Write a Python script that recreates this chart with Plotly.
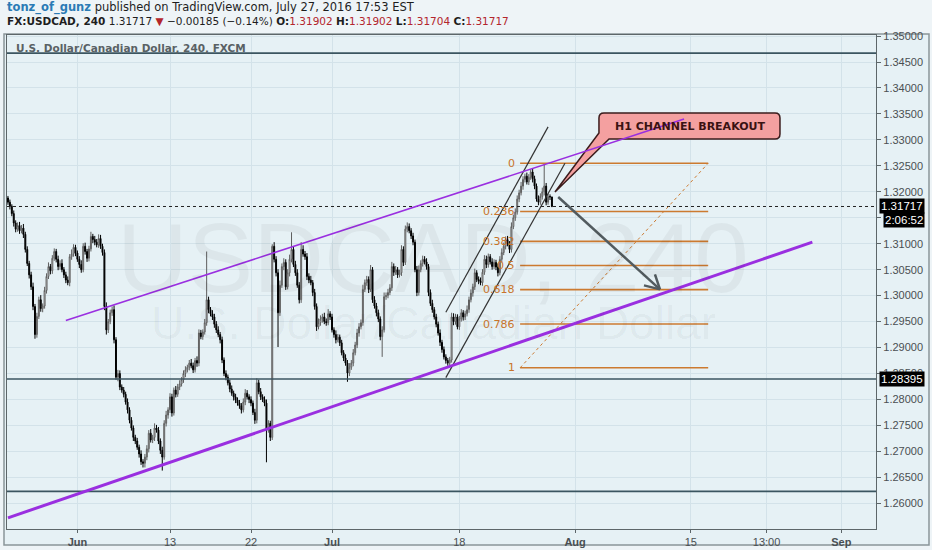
import pandas as pd
import plotly.graph_objects as go

# USDCAD 240 (4h candles), prices kept in pips above 1.0000  (3172 -> 1.3172)
first_open = 3188

close_rows = [
    [3180, 3172, 3158, 3140, 3128, 3135],  # May 24
    [3125, 3130, 3118, 3089, 3062, 3040],
    [3017, 2979, 2925, 2960, 2992, 2975],
    [2980, 3010, 3037, 3056, 3048, 3072],
    [3085, 3070, 3056, 3062, 3050, 3040],  # May 30
    [3030, 3025, 3075, 3080, 3093, 3082],
    [3070, 3060, 3050, 3095, 3085, 3072],  # Jun 1
    [3090, 3114, 3108, 3103, 3098, 3110],
    [3095, 3083, 2979, 2934, 2950, 2967],
    [2973, 2915, 2843, 2850, 2824, 2818],  # Jun 6
    [2810, 2795, 2780, 2760, 2745, 2727],
    [2720, 2708, 2695, 2680, 2677, 2689],
    [2705, 2735, 2722, 2727, 2745, 2741],
    [2720, 2702, 2689, 2754, 2770, 2780],
    [2805, 2774, 2818, 2810, 2824, 2830],  # Jun 13
    [2838, 2850, 2857, 2862, 2870, 2865],
    [2857, 2875, 2870, 2928, 2921, 2930],
    [2948, 2992, 2973, 2965, 2959, 2945],
    [2934, 2925, 2915, 2876, 2850, 2843],
    [2832, 2820, 2812, 2805, 2799, 2793],  # Jun 20
    [2788, 2780, 2795, 2812, 2805, 2800],
    [2793, 2775, 2760, 2832, 2815, 2805],
    [2800, 2793, 2741, 2754, 2727, 3095],
    [3070, 3044, 2967, 3020, 3056, 3064],
    [3017, 3044, 3070, 3089, 3060, 3044],  # Jun 27
    [3020, 2992, 3089, 3080, 3075, 3037],
    [3030, 3025, 3006, 2979, 2940, 2948],
    [2955, 2959, 2950, 2948, 2965, 2959],
    [2934, 2925, 2915, 2920, 2909, 2890],  # Jul 1
    [2880, 2870, 2851, 2862, 2870, 2890],  # Jul 4
    [2905, 2928, 2940, 2948, 3012, 3025],
    [3031, 3012, 3050, 2992, 2980, 2967],
    [2955, 2921, 2934, 2998, 3000, 3006],
    [3015, 3056, 3045, 3050, 3040, 3044],
    [3089, 3064, 3128, 3133, 3125, 3115],  # Jul 11
    [3103, 3050, 3006, 3050, 3062, 3070],
    [3065, 3056, 3006, 2985, 2973, 2959],
    [2945, 2928, 2910, 2896, 2882, 2875],
    [2870, 2876, 2959, 2950, 2959, 2940],
    [2955, 2967, 2959, 2965, 2973, 2992],  # Jul 18
    [3005, 3017, 3044, 3031, 3028, 3025],
    [3045, 3070, 3060, 3075, 3065, 3056],
    [3064, 3055, 3044, 3070, 3083, 3095],
    [3108, 3100, 3089, 3133, 3150, 3161],
    [3186, 3198, 3211, 3224, 3230, 3219],  # Jul 25
    [3228, 3238, 3225, 3211, 3186, 3180],
    [3191, 3200, 3211, 3180, 3191, 3190.2],
    [3171.7],
]

wick_up_rows = [
    [4, 5, 4, 6, 5, 6], [7, 6, 8, 5, 6, 5], [6, 8, 5, 7, 6, 9], [5, 7, 6, 8, 5, 6],
    [6, 5, 7, 6, 8, 5], [6, 7, 5, 9, 6, 5], [5, 6, 8, 6, 7, 5], [6, 9, 5, 7, 6, 8],
    [7, 5, 6, 8, 5, 6], [6, 8, 5, 7, 6, 5], [6, 5, 7, 5, 6, 5], [5, 6, 5, 7, 5, 6],
    [7, 6, 8, 5, 9, 6], [6, 5, 7, 6, 8, 5], [7, 6, 5, 8, 6, 7], [5, 6, 7, 5, 6, 8],
    [6, 5, 8, 7, 6, 5], [7, 93, 6, 5, 7, 6], [6, 7, 5, 6, 5, 6], [5, 6, 7, 5, 6, 5],
    [6, 5, 7, 8, 6, 5], [6, 5, 7, 9, 6, 7], [5, 6, 7, 6, 5, 4], [8, 6, 7, 9, 6, 8],
    [6, 7, 9, 33, 6, 7], [7, 6, 14, 8, 6, 7], [6, 8, 5, 7, 6, 8], [7, 6, 8, 6, 9, 5],
    [6, 5, 8, 6, 5, 6], [5, 7, 6, 8, 6, 7], [6, 8, 7, 6, 9, 6], [7, 6, 9, 5, 7, 6],
    [6, 5, 7, 8, 6, 7], [7, 9, 6, 7, 5, 6], [8, 6, 7, 8, 6, 5], [6, 5, 7, 8, 6, 7],
    [6, 7, 5, 6, 7, 5], [6, 5, 7, 5, 6, 5], [5, 6, 8, 7, 6, 5], [6, 7, 5, 6, 8, 6],
    [7, 6, 8, 5, 6, 7], [6, 8, 7, 6, 5, 7], [6, 5, 7, 6, 8, 7], [6, 7, 5, 8, 6, 7],
    [7, 6, 8, 6, 5, 7], [6, 5, 7, 6, 5, 7], [6, 8, 42, 6, 5, 4], [0],
]

wick_dn_rows = [
    [5, 6, 5, 7, 6, 5], [6, 5, 7, 6, 5, 7], [6, 7, 8, 6, 5, 6], [7, 5, 6, 5, 7, 6],
    [5, 6, 7, 6, 5, 6], [6, 5, 7, 6, 5, 6], [5, 7, 6, 5, 6, 7], [6, 5, 7, 6, 5, 6],
    [5, 6, 7, 9, 6, 5], [6, 7, 5, 8, 6, 5], [6, 5, 7, 6, 5, 7], [6, 5, 7, 6, 8, 8],
    [6, 7, 5, 6, 7, 5], [6, 7, 26, 5, 6, 7], [6, 7, 5, 6, 5, 6], [5, 6, 7, 5, 6, 5],
    [6, 5, 7, 6, 5, 6], [5, 6, 7, 5, 6, 7], [6, 5, 7, 6, 5, 6], [5, 6, 5, 7, 6, 5],
    [6, 7, 5, 6, 5, 7], [6, 5, 7, 6, 5, 6], [5, 6, 62, 5, 7, 5], [6, 7, 66, 6, 5, 7],
    [6, 5, 7, 6, 5, 6], [5, 7, 6, 5, 6, 7], [6, 5, 7, 6, 8, 5], [6, 7, 5, 6, 5, 6],
    [5, 6, 7, 5, 6, 5], [6, 5, 17, 6, 5, 6], [5, 6, 7, 5, 6, 5], [6, 7, 5, 6, 5, 7],
    [6, 7, 39, 5, 6, 5], [5, 6, 7, 5, 6, 5], [6, 7, 5, 6, 5, 6], [6, 5, 7, 6, 5, 6],
    [5, 6, 7, 5, 6, 5], [6, 5, 7, 6, 5, 6], [5, 6, 5, 7, 6, 5], [6, 5, 7, 6, 5, 6],
    [5, 7, 6, 5, 6, 5], [6, 5, 7, 6, 5, 6], [5, 6, 7, 5, 6, 5], [6, 5, 7, 6, 5, 6],
    [5, 6, 5, 7, 6, 5], [6, 5, 7, 6, 5, 6], [5, 6, 7, 6, 5, 6], [1.3],
]

tick_dates = ["2016-06-01", "2016-06-13", "2016-06-22", "2016-07-01", "2016-07-18",
              "2016-08-01", "2016-08-15", "2016-08-23 13:00", "2016-09-01"]
tick_text = ["<b>Jun</b>", "13", "22", "<b>Jul</b>", "18", "<b>Aug</b>", "15", "13:00", "<b>Sep</b>"]

last_price = 1.31717
level_lines = [1.3467, 1.28395, 1.2623]

# drawings (time, price)
upper_channel = [("2016-05-31 00:00", 1.2952), ("2016-08-12 10:00", 1.3340)]
lower_channel = [("2016-05-24 00:00", 1.2572), ("2016-08-29 12:00", 1.3103)]
h1_upper = [("2016-07-14 20:00", 1.2968), ("2016-07-27 16:00", 1.3325)]
h1_lower = [("2016-07-14 20:00", 1.2842), ("2016-07-29 03:00", 1.3255)]
fib_span = ["2016-07-25 06:00", "2016-08-16 12:00"]
fib_high, fib_low = 1.3255, 1.2861
fib_ratios = [0, 0.236, 0.382, 0.5, 0.618, 0.786, 1]
arrow = [("2016-07-28 13:00", 1.3190), ("2016-08-10 08:00", 1.3012)]


def flat(rows):
    return [v for row in rows for v in row]


closes = flat(close_rows)
wick_up = flat(wick_up_rows)
wick_dn = flat(wick_dn_rows)
opens = [first_open] + closes[:-1]
highs = [max(o, c) + w for o, c, w in zip(opens, closes, wick_up)]
lows = [min(o, c) - w for o, c, w in zip(opens, closes, wick_dn)]

days = pd.bdate_range("2016-05-24", "2016-07-28")
times = [d + pd.Timedelta(hours=h) for d in days for h in range(0, 24, 4)][:len(closes)]


def px(v):
    return 1 + v / 10000


fig = go.Figure(go.Candlestick(
    x=times,
    open=[px(v) for v in opens], high=[px(v) for v in highs],
    low=[px(v) for v in lows], close=[px(v) for v in closes],
    increasing=dict(line=dict(color="#5e5e5e", width=1), fillcolor="#ffffff"),
    decreasing=dict(line=dict(color="#000000", width=1), fillcolor="#000000"),
    whiskerwidth=0, showlegend=False, hoverinfo="skip",
))

# plot area in pixels: x 7..876, y 35..529
PX0, PX1, PY0, PY1 = 7, 876, 35, 529


def xp(x):
    return (x - PX0) / (PX1 - PX0)


def yp(y):
    return (PY1 - y) / (PY1 - PY0)


def pp(x, y):
    return f"{xp(x):.4f} {yp(y):.4f}"


shapes = []
# chart frame / background
shapes.append(dict(type="rect", xref="paper", yref="paper", layer="below",
                   x0=xp(4), x1=xp(929), y0=yp(545), y1=yp(34),
                   fillcolor="#e6f1f5", line=dict(color="#8a9599", width=1.5)))

for lv in level_lines:
    shapes.append(dict(type="line", xref="paper", yref="y", x0=0, x1=1, y0=lv, y1=lv,
                       line=dict(color="#3b5560", width=1.6)))
shapes.append(dict(type="line", xref="paper", yref="y", x0=0, x1=1,
                   y0=last_price, y1=last_price, line=dict(color="#222222", width=1, dash="dot")))

# fibonacci retracement
for r in fib_ratios:
    lv = fib_high - r * (fib_high - fib_low)
    shapes.append(dict(type="line", x0=fib_span[0], x1=fib_span[1], y0=lv, y1=lv,
                       line=dict(color="#cc7a30", width=1.6)))
shapes.append(dict(type="line", x0=fib_span[0], x1=fib_span[1], y0=fib_low, y1=fib_high,
                   line=dict(color="#cc7a30", width=1, dash="dot")))

# H1 channel
for ln in (h1_upper, h1_lower):
    shapes.append(dict(type="line", x0=ln[0][0], y0=ln[0][1], x1=ln[1][0], y1=ln[1][1],
                       line=dict(color="#333333", width=1.2)))

# callout bubble
bubble = ("M " + pp(604, 113) + " L " + pp(775, 113) + " Q " + pp(780, 113) + " " + pp(780, 118)
          + " L " + pp(780, 134) + " Q " + pp(780, 139) + " " + pp(775, 139)
          + " L " + pp(609, 139) + " L " + pp(555, 192) + " L " + pp(599, 133)
          + " L " + pp(599, 118) + " Q " + pp(599, 113) + " " + pp(604, 113) + " Z")
shapes.append(dict(type="path", xref="paper", yref="paper", path=bubble,
                   fillcolor="#f4a0a0", line=dict(color="#3b1c1c", width=1.5)))

# main channel
shapes.append(dict(type="line", x0=upper_channel[0][0], y0=upper_channel[0][1],
                   x1=upper_channel[1][0], y1=upper_channel[1][1],
                   line=dict(color="#9a2fe0", width=1.6)))
shapes.append(dict(type="line", x0=lower_channel[0][0], y0=lower_channel[0][1],
                   x1=lower_channel[1][0], y1=lower_channel[1][1],
                   line=dict(color="#9a2fe0", width=3)))

# arrow
shapes.append(dict(type="line", x0=arrow[0][0], y0=arrow[0][1], x1=arrow[1][0], y1=arrow[1][1],
                   line=dict(color="#525b5f", width=2.5)))
for bx, by in ((-16, 4), (-5, 15)):
    shapes.append(dict(type="line", xsizemode="pixel", ysizemode="pixel",
                       xanchor=arrow[1][0], yanchor=arrow[1][1],
                       x0=0, y0=0, x1=bx, y1=by, line=dict(color="#525b5f", width=2.5)))

annotations = []
wm = "rgba(0,0,0,0.045)"
annotations.append(dict(xref="paper", yref="paper", x=xp(433), y=yp(258),
                        xanchor="center", yanchor="middle", text="USDCAD, 240", showarrow=False,
                        font=dict(family="Liberation Sans", size=98, color=wm)))
annotations.append(dict(xref="paper", yref="paper", x=xp(433), y=yp(323),
                        xanchor="center", yanchor="middle", text="U.S. Dollar/Canadian Dollar",
                        showarrow=False, font=dict(family="Liberation Sans", size=46, color=wm)))

annotations.append(dict(xref="paper", yref="paper", x=xp(14), y=yp(48),
                        xanchor="left", yanchor="middle",
                        text="<b>U.S. Dollar/Canadian Dollar, 240, FXCM</b>", showarrow=False,
                        font=dict(family="DejaVu Sans", size=10.5, color="#596164")))

red = "#b3262c"
annotations.append(dict(
    xref="paper", yref="paper", x=xp(5), y=yp(8),
    xanchor="left", yanchor="middle", showarrow=False,
    text='<span style="color:#2b7bb5"><b>tonz_of_gunz</b></span> published on TradingView.com, July 27, 2016 17:53 EST',
    font=dict(family="DejaVu Sans", size=11.5, color="#1e1e1e")))
annotations.append(dict(
    xref="paper", yref="paper", x=xp(5), y=yp(21),
    xanchor="left", yanchor="middle", showarrow=False,
    text=(f'<b>FX:USDCAD, 240</b> 1.31717 <span style="color:{red}">▼</span> −0.00185 (−0.14%) '
          f'<b>O:</b><span style="color:{red}">1.31902</span> <b>H:</b><span style="color:{red}">1.31902</span> '
          f'<b>L:</b><span style="color:{red}">1.31704</span> <b>C:</b><span style="color:{red}">1.31717</span>'),
    font=dict(family="DejaVu Sans", size=10.5, color="#1e1e1e")))

for r in fib_ratios:
    lv = fib_high - r * (fib_high - fib_low)
    annotations.append(dict(x=fib_span[0], y=lv, xanchor="right", yanchor="middle", xshift=-3,
                            text=f"{r:g}", showarrow=False,
                            font=dict(family="DejaVu Sans", size=11, color="#c8742a")))

annotations.append(dict(xref="paper", yref="paper", x=xp(690), y=yp(126),
                        xanchor="center", yanchor="middle", text="<b>H1 CHANNEL BREAKOUT</b>",
                        showarrow=False, font=dict(family="DejaVu Sans", size=11, color="#3a1212")))

for val, lbl, shift in ((last_price, "1.31717", 0), (last_price, "2:06:52", -14), (1.28395, "1.28395", 0)):
    annotations.append(dict(xref="paper", yref="y", x=xp(925), y=val,
                            xanchor="right", yanchor="middle", yshift=shift, text=lbl,
                            showarrow=False, bgcolor="#000000", borderpad=1,
                            font=dict(family="Liberation Sans", size=11.5, color="#ffffff")))

fig.update_layout(
    width=932, height=550,
    margin=dict(l=PX0, r=932 - PX1, t=PY0, b=550 - PY1, autoexpand=False),
    paper_bgcolor="#eef4f7", plot_bgcolor="rgba(0,0,0,0)",
    shapes=shapes, annotations=annotations,
    xaxis=dict(
        type="date", range=["2016-05-23 22:00", "2016-09-06 00:00"],
        rangebreaks=[dict(bounds=["sat", "mon"])],
        rangeslider=dict(visible=False), automargin=False,
        tickvals=tick_dates, ticktext=tick_text,
        showgrid=True, gridcolor="#d3e2e9", gridwidth=1,
        showline=True, linecolor="#5d6669", linewidth=1.2, mirror=True,
        ticks="outside", ticklen=3, tickcolor="#5d6669",
        tickfont=dict(family="Liberation Sans", size=11, color="#4a4f52"),
    ),
    yaxis=dict(
        side="right", range=[1.25505, 1.3502], dtick=0.005, tick0=1.25, tickformat=".5f",
        automargin=False,
        showgrid=True, gridcolor="#d3e2e9", gridwidth=1,
        showline=True, linecolor="#5d6669", linewidth=1.2, mirror=True,
        ticks="outside", ticklen=4, tickcolor="#5d6669",
        tickfont=dict(family="Liberation Sans", size=11, color="#4a4f52"),
        zeroline=False,
    ),
)

# the page body has a default 8px margin; drop it so the figure sits at the window corner
fig.write_html("out.html", config={"displayModeBar": False},
               post_script="document.body.style.margin='0px';")
